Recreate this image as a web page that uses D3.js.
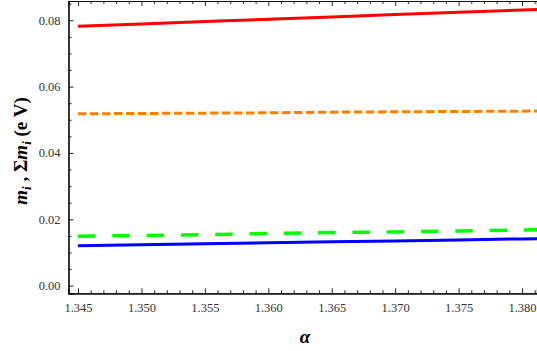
<!DOCTYPE html>
<html>
<head>
<meta charset="utf-8">
<script src="https://cdn.jsdelivr.net/npm/d3@7"></script>
<style>
  body { margin: 0; background: #fff; }
</style>
</head>
<body>
<div class="chart"></div>
<script>
// alpha values (x)
let alpha = [1.345, 1.350, 1.355, 1.360, 1.365, 1.370, 1.375, 1.380, 1.385]
// masses in eV
let sumM = [0.0782, 0.0789, 0.0796, 0.0803, 0.0810, 0.0817, 0.0824, 0.0831, 0.0838]
let m3   = [0.0518, 0.0519, 0.0520, 0.0521, 0.0523, 0.0524, 0.0525, 0.0526, 0.0527]
let m2   = [0.0149, 0.0151, 0.0154, 0.0157, 0.0160, 0.0162, 0.0165, 0.0168, 0.0170]
let m1   = [0.0120, 0.0123, 0.0126, 0.0129, 0.0132, 0.0135, 0.0138, 0.0141, 0.0144]

let xMajor = [1.345, 1.350, 1.355, 1.360, 1.365, 1.370, 1.375, 1.380]
let yMajor = [0.00, 0.02, 0.04, 0.06, 0.08]

let w = 537
let h = 351
let padL = 68.5, padR = 537, padT = 1, padB = 293.3
let serif = "'Liberation Serif', 'DejaVu Serif', serif"

let xScale = d3.scaleLinear().domain([1.34425, 1.38118]).range([padL, padR])
let yScale = d3.scaleLinear().domain([-0.0023, 0.0858]).range([padB, padT])

let svg = d3.select(".chart").append("svg")
  .attr("width", w).attr("height", h)

svg.append("clipPath").attr("id", "clip")
  .append("rect").attr("x", padL).attr("y", padT).attr("width", padR - padL).attr("height", padB - padT)

// minor ticks
let xMinor = d3.range(1.345, 1.3815, 0.001).filter(v => Math.abs(v * 200 - Math.round(v * 200)) > 1e-6)
let yMinor = d3.range(0, 0.0858, 0.005).filter(v => Math.abs(v * 50 - Math.round(v * 50)) > 1e-6)

function axisG(axis, tr) {
  let g = svg.append("g").attr("transform", tr).call(axis)
  g.selectAll("line").attr("stroke", "#222")
  g.select(".domain").attr("stroke", "#111").attr("stroke-width", 1.2)
  g.selectAll("text").attr("font-family", serif).attr("font-size", 12.5).attr("fill", "#333")
  return g
}

axisG(d3.axisBottom(xScale).tickValues(xMajor).tickSize(-5).tickPadding(10).tickFormat(d3.format(".3f")), "translate(0," + padB + ")")
axisG(d3.axisBottom(xScale).tickValues(xMinor).tickSize(-3).tickFormat(""), "translate(0," + padB + ")")
axisG(d3.axisTop(xScale).tickValues(xMajor).tickSize(-5).tickFormat(""), "translate(0," + padT + ")")
axisG(d3.axisTop(xScale).tickValues(xMinor).tickSize(-3).tickFormat(""), "translate(0," + padT + ")")
axisG(d3.axisLeft(yScale).tickValues(yMajor).tickSize(-5).tickPadding(8).tickFormat(d3.format(".2f")), "translate(" + padL + ",0)")
axisG(d3.axisLeft(yScale).tickValues(yMinor).tickSize(-3).tickFormat(""), "translate(" + padL + ",0)")

let series = [
  { vals: sumM, color: "#ff0000", dash: null, width: 3 },
  { vals: m3, color: "#ff8000", dash: "8.5,3.5", width: 3 },
  { vals: m2, color: "#00ff00", dash: "17.5,16.8", width: 3.5 },
  { vals: m1, color: "#0000ff", dash: null, width: 3 }
]

let line = d3.line().x((d, i) => xScale(alpha[i])).y(d => yScale(d))

svg.append("g").attr("clip-path", "url(#clip)")
  .selectAll("path")
  .data(series)
  .enter()
  .append("path")
  .attr("d", d => line(d.vals))
  .attr("fill", "none")
  .attr("stroke", d => d.color)
  .attr("stroke-width", d => d.width)
  .attr("stroke-dasharray", d => d.dash)

// axis titles
let yl = svg.append("text")
  .attr("transform", "translate(27,151) rotate(-90)")
  .attr("text-anchor", "middle")
  .attr("font-family", serif)
  .attr("font-weight", "bold")
  .attr("font-size", 19)
yl.append("tspan").attr("font-style", "italic").text("m")
yl.append("tspan").attr("font-style", "italic").attr("font-size", 13).attr("dy", 4).text("i")
yl.append("tspan").attr("dy", -4).text(" , \u03A3")
yl.append("tspan").attr("font-style", "italic").text("m")
yl.append("tspan").attr("font-style", "italic").attr("font-size", 13).attr("dy", 4).text("i")
yl.append("tspan").attr("dy", -4).text(" (e V)")

svg.append("text")
  .attr("x", 305).attr("y", 343)
  .attr("text-anchor", "middle")
  .attr("font-family", serif)
  .attr("font-weight", "bold")
  .attr("font-style", "italic")
  .attr("font-size", 19)
  .text("\u03B1")
</script>
</body>
</html>
